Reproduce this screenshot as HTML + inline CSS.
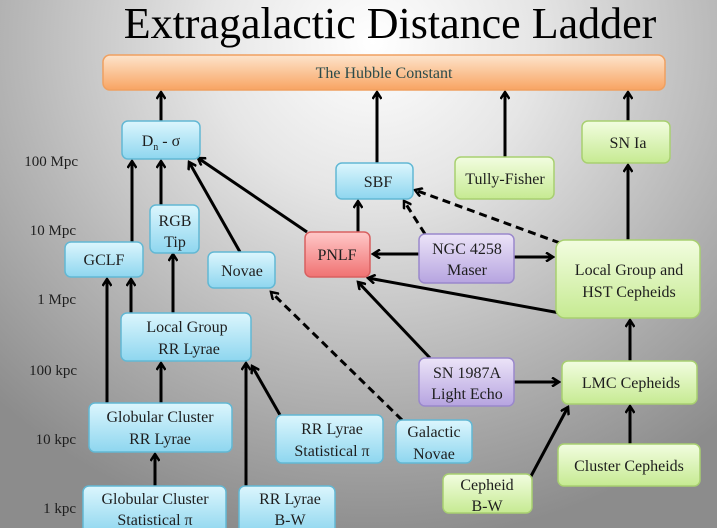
<!DOCTYPE html>
<html><head><meta charset="utf-8"><style>
html,body{margin:0;padding:0;}
body{width:717px;height:528px;overflow:hidden;background:radial-gradient(ellipse 75% 95% at 52% 8%,#ffffff 0%,#e6e6e6 30%,#b8b8b8 65%,#8c8c8c 100%);}
svg{position:absolute;left:0;top:0;}
text{font-family:"Liberation Serif",serif;fill:#1e1e1e;}
</style></head><body>
<svg width="717" height="528" viewBox="0 0 717 528">
<defs>
<linearGradient id="gb" x1="0" y1="0" x2="0" y2="1"><stop offset="0" stop-color="#dcf6fd"/><stop offset="1" stop-color="#8ed6ef"/></linearGradient>
<linearGradient id="gg" x1="0" y1="0" x2="0" y2="1"><stop offset="0" stop-color="#f2fde0"/><stop offset="1" stop-color="#c6ea92"/></linearGradient>
<linearGradient id="gp" x1="0" y1="0" x2="0" y2="1"><stop offset="0" stop-color="#ece4f8"/><stop offset="1" stop-color="#b6a4e0"/></linearGradient>
<linearGradient id="gr" x1="0" y1="0" x2="0" y2="1"><stop offset="0" stop-color="#ffc8c8"/><stop offset="1" stop-color="#f07272"/></linearGradient>
<linearGradient id="go" x1="0" y1="0" x2="0" y2="1"><stop offset="0" stop-color="#fde4cc"/><stop offset="1" stop-color="#f8a462"/></linearGradient>
<marker id="a" markerWidth="10" markerHeight="10" refX="8" refY="5" orient="auto" markerUnits="userSpaceOnUse"><path d="M1,0.5 L8,5 L1,9.5" fill="none" stroke="#000" stroke-width="2.5"/></marker>
</defs>
<text x="390" y="38" font-size="44" text-anchor="middle" style="fill:#000">Extragalactic Distance Ladder</text>

<g font-size="15" text-anchor="end">
<text x="78" y="166">100 Mpc</text>
<text x="76" y="235">10 Mpc</text>
<text x="76" y="304">1 Mpc</text>
<text x="77" y="375">100 kpc</text>
<text x="76" y="444">10 kpc</text>
<text x="76" y="513">1 kpc</text>
</g>

<g stroke="#000" stroke-width="3" fill="none" marker-end="url(#a)">
<line x1="161" y1="121" x2="161" y2="92"/>
<line x1="377" y1="163" x2="377" y2="92"/>
<line x1="505" y1="157" x2="505" y2="92"/>
<line x1="628" y1="121" x2="628" y2="92"/>
<line x1="132" y1="242" x2="132" y2="161"/>
<line x1="161" y1="205" x2="161" y2="161"/>
<line x1="240" y1="252" x2="189" y2="162"/>
<line x1="307" y1="232" x2="198" y2="158"/>
<line x1="358" y1="232" x2="358" y2="201"/>
<line x1="419" y1="254" x2="373" y2="254"/>
<line x1="514" y1="257" x2="553" y2="257"/>
<line x1="560" y1="313" x2="368" y2="278"/>
<line x1="430" y1="358" x2="358" y2="282"/>
<line x1="628" y1="240" x2="628" y2="165"/>
<line x1="630" y1="361" x2="630" y2="320"/>
<line x1="514" y1="382" x2="559" y2="382"/>
<line x1="630" y1="444" x2="630" y2="406"/>
<line x1="530" y1="478" x2="568" y2="407"/>
<line x1="131" y1="313" x2="131" y2="279"/>
<line x1="107" y1="403" x2="107" y2="279"/>
<line x1="173" y1="313" x2="173" y2="254"/>
<line x1="161" y1="403" x2="161" y2="363"/>
<line x1="155" y1="486" x2="155" y2="454"/>
<line x1="246" y1="486" x2="246" y2="363"/>
<line x1="280" y1="415" x2="252" y2="366"/>
<line x1="425" y1="234" x2="404" y2="201" stroke-dasharray="8,5"/>
<line x1="560" y1="243" x2="415" y2="190" stroke-dasharray="8,5"/>
<line x1="402" y1="420" x2="271" y2="292" stroke-dasharray="8,5"/>
</g>

<g stroke-width="1.5">
<rect x="103" y="55" width="562" height="35" rx="7" fill="url(#go)" stroke="#f0a060"/>
<rect x="122" y="121" width="78" height="38" rx="6" fill="url(#gb)" stroke="#62b8d4"/>
<rect x="336" y="163" width="77" height="36" rx="6" fill="url(#gb)" stroke="#62b8d4"/>
<rect x="455" y="157" width="99" height="42" rx="6" fill="url(#gg)" stroke="#a8d070"/>
<rect x="582" y="121" width="88" height="42" rx="6" fill="url(#gg)" stroke="#a8d070"/>
<rect x="150" y="205" width="49" height="48" rx="6" fill="url(#gb)" stroke="#62b8d4"/>
<rect x="65" y="242" width="78" height="35" rx="6" fill="url(#gb)" stroke="#62b8d4"/>
<rect x="208" y="252" width="67" height="36" rx="6" fill="url(#gb)" stroke="#62b8d4"/>
<rect x="305" y="232" width="65" height="45" rx="6" fill="url(#gr)" stroke="#d86060"/>
<rect x="419" y="234" width="95" height="49" rx="6" fill="url(#gp)" stroke="#9a88cc"/>
<rect x="556" y="240" width="144" height="78" rx="9" fill="url(#gg)" stroke="#a8d070"/>
<rect x="121" y="313" width="130" height="48" rx="6" fill="url(#gb)" stroke="#62b8d4"/>
<rect x="419" y="358" width="95" height="48" rx="6" fill="url(#gp)" stroke="#9a88cc"/>
<rect x="562" y="361" width="135" height="43" rx="6" fill="url(#gg)" stroke="#a8d070"/>
<rect x="89" y="403" width="143" height="49" rx="6" fill="url(#gb)" stroke="#62b8d4"/>
<rect x="276" y="415" width="107" height="48" rx="6" fill="url(#gb)" stroke="#62b8d4"/>
<rect x="396" y="420" width="76" height="43" rx="6" fill="url(#gb)" stroke="#62b8d4"/>
<rect x="558" y="444" width="142" height="42" rx="6" fill="url(#gg)" stroke="#a8d070"/>
<rect x="443" y="474" width="89" height="39" rx="6" fill="url(#gg)" stroke="#a8d070"/>
<rect x="83" y="486" width="143" height="48" rx="6" fill="url(#gb)" stroke="#62b8d4"/>
<rect x="239" y="486" width="96" height="48" rx="6" fill="url(#gb)" stroke="#62b8d4"/>
</g>

<g font-size="16" text-anchor="middle">
<text x="384" y="78" style="fill:#2a4a4a">The Hubble Constant</text>
<text x="161" y="146">D<tspan font-size="10" dy="4">n</tspan><tspan dy="-4"> - σ</tspan></text>
<text x="378" y="187">SBF</text>
<text x="505" y="184">Tully-Fisher</text>
<text x="628" y="148">SN Ia</text>
<text x="175" y="226">RGB</text><text x="175" y="247">Tip</text>
<text x="104" y="265">GCLF</text>
<text x="242" y="276">Novae</text>
<text x="337" y="260">PNLF</text>
<text x="467" y="254">NGC 4258</text><text x="467" y="275">Maser</text>
<text x="629" y="275">Local Group and</text><text x="629" y="297">HST Cepheids</text>
<text x="187" y="332">Local Group</text><text x="189" y="354">RR Lyrae</text>
<text x="467" y="378">SN 1987A</text><text x="467" y="399">Light Echo</text>
<text x="631" y="388">LMC Cepheids</text>
<text x="160" y="422">Globular Cluster</text><text x="160" y="444">RR Lyrae</text>
<text x="332" y="434">RR Lyrae</text><text x="332" y="456">Statistical π</text>
<text x="434" y="437">Galactic</text><text x="434" y="459">Novae</text>
<text x="629" y="471">Cluster Cepheids</text>
<text x="487" y="490">Cepheid</text><text x="487" y="511">B-W</text>
<text x="155" y="504">Globular Cluster</text><text x="155" y="525">Statistical π</text>
<text x="290" y="504">RR Lyrae</text><text x="290" y="525">B-W</text>
</g>
</svg>
</body></html>
